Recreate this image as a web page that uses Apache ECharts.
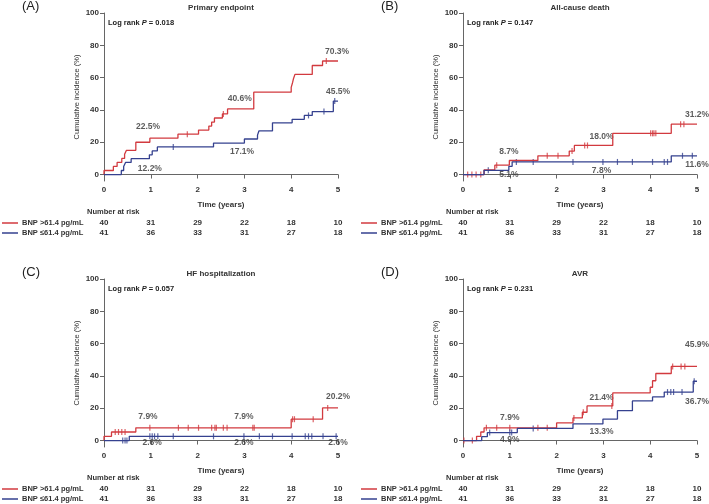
<!DOCTYPE html>
<html>
<head>
<meta charset="utf-8">
<script src="https://cdn.jsdelivr.net/npm/echarts@6/dist/echarts.min.js"></script>
<style>
  html, body { margin: 0; padding: 0; background: #fff; }
  #chart { width: 709px; height: 504px; }
</style>
</head>
<body>
<div id="chart"></div>
<script>
// number at risk, same for every panel
const years = [0, 1, 2, 3, 4, 5];
const riskHigh = [40, 31, 29, 22, 18, 10];
const riskLow = [41, 36, 33, 31, 27, 18];
const groupNames = ['BNP >61.4 pg/mL', 'BNP \u226461.4 pg/mL'];

// (A) primary endpoint: [time, cumulative %] after each event
const aHigh = [[0,0],[0,2.5],[0.2,5],[0.28,7.5],[0.38,10],[0.44,12.5],[0.48,15],[0.68,20],[0.98,22.5],[1.58,25],[2.02,27.5],[2.24,30],[2.3,32.5],[2.36,35],[2.53,37.5],[2.64,40.6],[3.2,51],[4.0,54],[4.03,57],[4.05,59.5],[4.08,62],[4.45,67.5],[4.67,70.3],[5,70.3]];
const aHighCens = [1.78, 2.55, 4.75];
const aLow = [[0,0],[0.37,2.5],[0.42,5],[0.46,7.5],[0.58,9.8],[0.97,12.2],[1.03,14.6],[1.14,17.1],[2.34,19.5],[3.0,22],[3.28,24.4],[3.31,27],[3.6,32],[4.02,34.2],[4.28,36.6],[4.45,39],[4.9,45.5],[5,45.5]];
const aLowCens = [1.48, 4.37, 4.7, 4.93];
const aLabels = [[0.94,29.4,'22.5%'],[0.98,3.9,'12.2%'],[2.9,46.7,'40.6%'],[2.95,13.9,'17.1%'],[4.98,76,'70.3%'],[5.0,51.3,'45.5%']];

// (B) all-cause death
const bHigh = [[0,0],[0.45,2.9],[0.68,5.8],[0.99,8.7],[1.6,11.6],[2.27,14.5],[2.38,18.0],[3.2,25.5],[4.45,31.2],[5,31.2]];
const bHighCens = [0.1,0.19,0.28,0.38,0.72,1.8,2.03,2.33,2.6,2.66,4.01,4.05,4.08,4.12,4.65,4.72];
const bLow = [[0,0],[0.45,2.6],[0.98,5.1],[1.05,7.8],[4.45,11.6],[5,11.6]];
const bLowCens = [0.54,1.14,1.5,2.35,2.99,3.3,3.62,4.05,4.3,4.37,4.69,4.9];
const bLabels = [[0.98,14.3,'8.7%'],[0.98,0,'5.1%'],[2.96,23.2,'18.0%'],[2.96,2.4,'7.8%'],[5.0,37,'31.2%'],[5.0,6,'11.6%']];

// (C) HF hospitalization
const cHigh = [[0,0],[0,2.6],[0.16,5.3],[0.68,7.9],[4.0,13.2],[4.67,20.2],[5,20.2]];
const cHighCens = [0.24,0.31,0.38,0.45,0.98,1.59,1.8,2.02,2.3,2.37,2.4,2.55,2.63,3.18,3.21,4.03,4.07,4.47,4.78];
const cLow = [[0,0],[0.54,2.6],[5,2.6]];
const cLowCens = [0.4,0.45,0.49,0.98,1.03,1.08,1.15,1.48,2.34,2.99,3.32,3.6,4.02,4.3,4.37,4.44,4.68,4.96];
const cLabels = [[0.94,14.5,'7.9%'],[2.99,14.5,'7.9%'],[5.0,26.9,'20.2%'],[1.03,-1.3,'2.6%'],[2.99,-1.3,'2.6%'],[5.0,-1.3,'2.6%']];

// (D) AVR
const dHigh = [[0,0],[0.29,2.6],[0.38,5.3],[0.45,7.9],[2.0,10.9],[2.35,14],[2.55,17.5],[2.65,21.4],[3.2,29.5],[4.0,33],[4.05,37],[4.12,41.5],[4.45,45.9],[5,45.9]];
const dHighCens = [0.02,0.2,0.5,0.72,1.0,1.6,1.8,2.37,2.57,3.18,4.48,4.66,4.74];
const dLow = [[0,0],[0.4,2.4],[0.52,4.9],[1.16,7.5],[2.35,10.3],[2.99,13.3],[3.3,18.5],[3.62,24.5],[4.05,27],[4.3,30],[4.92,36.7],[5,36.7]];
const dLowCens = [0.57,1.0,1.04,1.5,4.37,4.44,4.5,4.68,4.94];
const dLabels = [[1.0,14.1,'7.9%'],[1.0,0.6,'4.9%'],[2.96,26.5,'21.4%'],[2.96,5.2,'13.3%'],[5.0,59.6,'45.9%'],[5.0,23.8,'36.7%']];

const RED = '#d23a3f';
const BLUE = '#35418f';
const FONT = "'Liberation Sans Narrow', 'Liberation Sans', Arial, sans-serif";

const panels = [
  { tag: '(A)', title: 'Primary endpoint', p: '0.018', left: 104, top: 13, hi: aHigh, hiC: aHighCens, lo: aLow, loC: aLowCens, labels: aLabels, lx: 0 },
  { tag: '(B)', title: 'All-cause death', p: '0.147', left: 463, top: 13, hi: bHigh, hiC: bHighCens, lo: bLow, loC: bLowCens, labels: bLabels, lx: 359 },
  { tag: '(C)', title: 'HF hospitalization', p: '0.057', left: 104, top: 279, hi: cHigh, hiC: cHighCens, lo: cLow, loC: cLowCens, labels: cLabels, lx: 0 },
  { tag: '(D)', title: 'AVR', p: '0.231', left: 463, top: 279, hi: dHigh, hiC: dHighCens, lo: dLow, loC: dLowCens, labels: dLabels, lx: 359 }
];
const W = 234, H = 168;

// value of the step curve at time t
function stepAt(curve, t) {
  let v = 0;
  for (let i = 0; i < curve.length; i++) {
    if (curve[i][0] <= t) v = curve[i][1];
  }
  return v;
}

const grid = [], xAxis = [], yAxis = [], series = [], graphic = [];

panels.forEach((pn, i) => {
  grid.push({ left: pn.left, top: pn.top, width: W, height: H });
  xAxis.push({
    gridIndex: i, type: 'value', min: 0, max: 5, interval: 1,
    name: 'Time (years)', nameLocation: 'middle', nameGap: 20,
    nameTextStyle: { fontSize: 8, fontWeight: 'bold', color: '#333', fontFamily: FONT },
    axisLine: { lineStyle: { color: '#666' } },
    axisTick: { length: 4, lineStyle: { color: '#666' } },
    axisLabel: { fontSize: 8, fontWeight: 'bold', color: '#333', margin: 5, fontFamily: FONT },
    splitLine: { show: false }
  });
  yAxis.push({
    gridIndex: i, type: 'value', min: -4, max: 100,
    name: 'Cumulative incidence (%)', nameLocation: 'middle', nameGap: 23,
    nameTextStyle: { fontSize: 7.5, color: '#333', fontFamily: FONT },
    axisLine: { show: true, lineStyle: { color: '#666' } },
    axisTick: { show: true, length: 4, customValues: [0, 20, 40, 60, 80, 100], lineStyle: { color: '#666' } },
    axisLabel: { fontSize: 8, fontWeight: 'bold', color: '#333', margin: 5, customValues: [0, 20, 40, 60, 80, 100], fontFamily: FONT },
    splitLine: { show: false }
  });

  [[pn.hi, pn.hiC, RED], [pn.lo, pn.loC, BLUE]].forEach(([curve, cens, col]) => {
    series.push({
      type: 'line', xAxisIndex: i, yAxisIndex: i, step: 'end', symbol: 'none',
      lineStyle: { color: col, width: 1.3 }, data: curve, silent: true
    });
    series.push({
      type: 'scatter', xAxisIndex: i, yAxisIndex: i, symbol: 'rect', symbolSize: [1.2, 6],
      itemStyle: { color: col }, data: cens.map(t => [t, stepAt(curve, t)]), silent: true
    });
  });

  series.push({
    type: 'scatter', xAxisIndex: i, yAxisIndex: i, symbolSize: 0, silent: true,
    data: pn.labels,
    label: {
      show: true, position: 'inside', formatter: p => p.data[2],
      fontSize: 8.5, fontWeight: 'bold', color: '#333', fontFamily: FONT
    }
  });

  // panel letter, title, log rank
  graphic.push({ type: 'text', left: pn.left - 82, top: pn.top - 13,
    style: { text: pn.tag, fontSize: 13, fill: '#222', fontFamily: FONT } });
  graphic.push({ type: 'text', x: pn.left + W / 2, y: pn.top - 5,
    style: { text: pn.title, fontSize: 8, fontWeight: 'bold', fill: '#333', align: 'center', verticalAlign: 'middle', fontFamily: FONT } });
  graphic.push({ type: 'text', x: pn.left + 4, y: pn.top + 10,
    style: {
      text: 'Log rank {i|P} = ' + pn.p, fontSize: 7.5, fontWeight: 'bold', fill: '#222', verticalAlign: 'middle', fontFamily: FONT,
      rich: { i: { fontStyle: 'italic', fontWeight: 'bold', fontSize: 7.5, fill: '#222', fontFamily: FONT } }
    } });

  // number at risk table
  const ty = pn.top + H + 31;
  graphic.push({ type: 'text', x: pn.left - 17, y: ty,
    style: { text: 'Number at risk', fontSize: 7.5, fontWeight: 'bold', fill: '#333', verticalAlign: 'middle', fontFamily: FONT } });
  [[riskHigh, RED], [riskLow, BLUE]].forEach(([row, col], r) => {
    const ry = ty + 11 + r * 10;
    graphic.push({ type: 'line', shape: { x1: pn.lx + 2, y1: ry, x2: pn.lx + 18, y2: ry }, style: { stroke: col, lineWidth: 1.5 } });
    graphic.push({ type: 'text', x: pn.lx + 22, y: ry,
      style: { text: groupNames[r], fontSize: 7.5, fontWeight: 'bold', fill: '#333', verticalAlign: 'middle', fontFamily: FONT } });
    row.forEach((n, k) => {
      graphic.push({ type: 'text', x: pn.left + years[k] * W / 5, y: ry,
        style: { text: String(n), fontSize: 8, fontWeight: 'bold', fill: '#333', align: 'center', verticalAlign: 'middle', fontFamily: FONT } });
    });
  });
});

const chart = echarts.init(document.getElementById('chart'));
chart.setOption({
  animation: false,
  backgroundColor: '#fff',
  grid: grid,
  xAxis: xAxis,
  yAxis: yAxis,
  series: series,
  graphic: graphic
});
</script>
</body>
</html>
